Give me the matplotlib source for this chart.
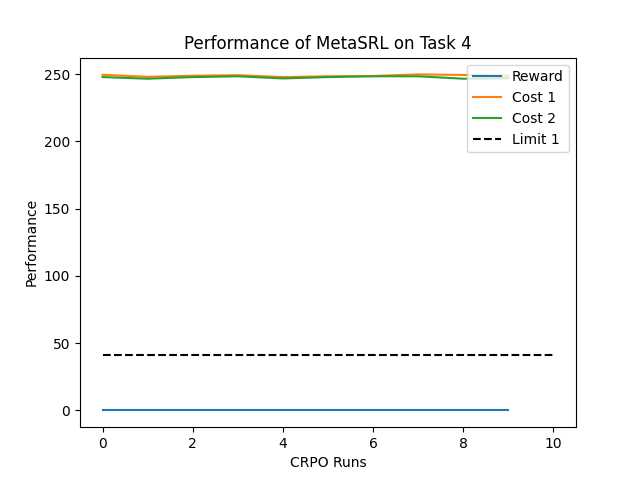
import numpy as np
import matplotlib
matplotlib.use("Agg")
import matplotlib.pyplot as plt

runs = np.arange(10)
reward = [0, 0, 0, 0, 0, 0, 0, 0, 0, 0]
cost1 = [249.5, 248.0, 248.8, 249.2, 247.8, 248.4, 248.6, 249.8, 249.4, 248.8]
cost2 = [247.8, 246.6, 247.8, 248.4, 246.8, 247.8, 248.4, 248.4, 246.6, 247.0]
limit1 = 41
limit_x = [0, 10]

fig, ax = plt.subplots(figsize=(6.4, 4.8), dpi=100)
ax.plot(runs, reward, label="Reward")
ax.plot(runs, cost1, label="Cost 1")
ax.plot(runs, cost2, label="Cost 2")
ax.plot(limit_x, [limit1, limit1], "k--", label="Limit 1")
ax.set_xlabel("CRPO Runs")
ax.set_ylabel("Performance")
ax.set_title("Performance of MetaSRL on Task 4")
ax.legend(loc="upper right")
fig.savefig("out.png")
